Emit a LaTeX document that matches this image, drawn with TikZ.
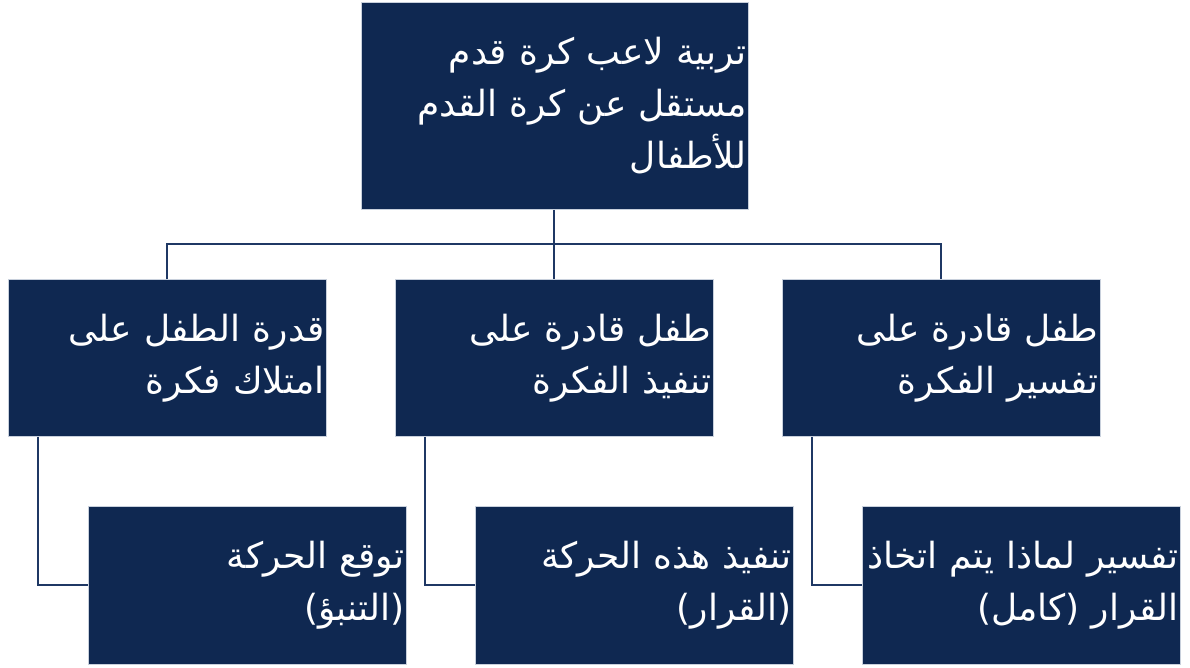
\documentclass[tikz,border=0pt]{standalone}
\usepackage{fontspec}
\newfontfamily\arabicfont[Script=Arabic]{DejaVu Sans}
\TeXXeTstate=1
\definecolor{boxfill}{HTML}{0F2851}
\definecolor{linecol}{HTML}{1F3864}
\definecolor{edgecol}{HTML}{C8D0DC}
\begin{document}
\begin{tikzpicture}[x=1pt,y=-1pt,
  box/.style={draw=edgecol, line width=0.8pt, fill=boxfill, anchor=north west,
    text=white, align=right, inner xsep=2pt, inner ysep=0pt,
    font=\arabicfont\fontsize{36}{52}\selectfont},
  conn/.style={draw=linecol, line width=2pt}]
\useasboundingbox (0,0) rectangle (1190,668);
\fill[white] (0,0) rectangle (1190,668);
% top
\node[box, minimum width=387pt, minimum height=207pt, text width=383pt] (top) at (361,2)
 {\beginR تربية لاعب كرة قدم\endR\\ \beginR مستقل عن كرة القدم\endR\\ \beginR للأطفال\endR};
% row 2
\node[box, minimum width=318pt, minimum height=157pt, text width=314pt] (a) at (8,279)
 {\beginR قدرة الطفل على\endR\\ \beginR امتلاك فكرة\endR};
\node[box, minimum width=318pt, minimum height=157pt, text width=314pt] (b) at (395,279)
 {\beginR طفل قادرة على\endR\\ \beginR تنفيذ الفكرة\endR};
\node[box, minimum width=318pt, minimum height=157pt, text width=314pt] (c) at (782,279)
 {\beginR طفل قادرة على\endR\\ \beginR تفسير الفكرة\endR};
% row 3
\node[box, minimum width=318pt, minimum height=158pt, text width=314pt] (a1) at (88,506)
 {\beginR توقع الحركة\endR\\ \beginR (التنبؤ)\endR};
\node[box, minimum width=318pt, minimum height=158pt, text width=314pt] (b1) at (475,506)
 {\beginR تنفيذ هذه الحركة\endR\\ \beginR (القرار)\endR};
\node[box, minimum width=318pt, minimum height=158pt, text width=314pt] (c1) at (862,506)
 {\beginR تفسير لماذا يتم اتخاذ\endR\\ \beginR القرار (كامل)\endR};
% connectors
\coordinate (j) at (b.north |- 0,244);
\draw[conn] (j |- top.south) -- (j);
\draw[conn] (a.north) |- (j) -| (c.north);
\draw[conn] (j) -- (b.north);
\draw[conn] ([xshift=30pt]a.south west) |- (a1.west);
\draw[conn] ([xshift=30pt]b.south west) |- (b1.west);
\draw[conn] ([xshift=30pt]c.south west) |- (c1.west);
\end{tikzpicture}
\end{document}
